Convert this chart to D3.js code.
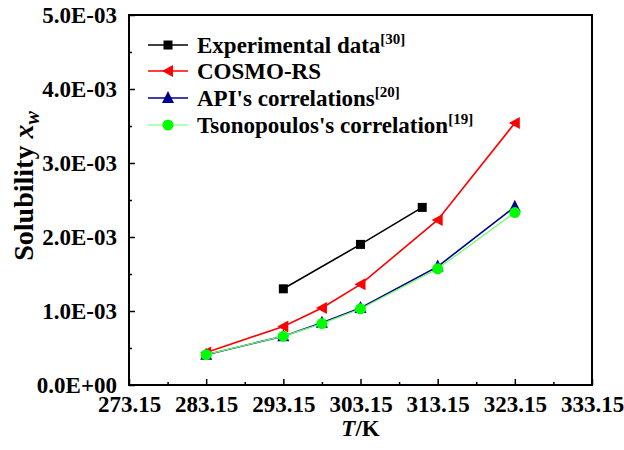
<!DOCTYPE html>
<html><head><meta charset="utf-8">
<script src="https://cdn.jsdelivr.net/npm/d3@7"></script>
<style>body{margin:0;background:#fff}svg{display:block}</style>
</head><body>
<script>
const seriesNames = ["Experimental data", "COSMO-RS", "API's correlations", "Tsonopoulos's correlation"];
const seriesRefs = ["[30]", "", "[20]", "[19]"];
const expT = [293.15, 303.15, 311.15];
const expX = [1.30e-3, 1.90e-3, 2.40e-3];
const cosmoT = [283.15, 293.15, 298.15, 303.15, 313.15, 323.15];
const cosmoX = [0.44e-3, 0.79e-3, 1.04e-3, 1.36e-3, 2.23e-3, 3.54e-3];
const apiT = [283.15, 293.15, 298.15, 303.15, 313.15, 323.15];
const apiX = [0.41e-3, 0.66e-3, 0.84e-3, 1.04e-3, 1.60e-3, 2.41e-3];
const tsoT = [283.15, 293.15, 298.15, 303.15, 313.15, 323.15];
const tsoX = [0.41e-3, 0.66e-3, 0.83e-3, 1.03e-3, 1.57e-3, 2.33e-3];
const xTicks = [273.15, 283.15, 293.15, 303.15, 313.15, 323.15, 333.15];
const yTicks = [0, 1e-3, 2e-3, 3e-3, 4e-3, 5e-3];
const yTickLabels = ["0.0E+00", "1.0E-03", "2.0E-03", "3.0E-03", "4.0E-03", "5.0E-03"];

const W = 624, H = 450;
const L = 129, R = 592, T = 15, B = 385;
const svg = d3.select("body").append("svg").attr("width", W).attr("height", H);
const x = d3.scaleLinear().domain([273.15, 333.15]).range([L, R]);
const y = d3.scaleLinear().domain([0, 5e-3]).range([B, T]);
const font = "'Liberation Serif','Times New Roman',serif";

// ticks (inward)
const xMinor = xTicks.slice(0, -1).map(v => v + 5);
const yMinor = yTicks.slice(0, -1).map(v => v + 0.5e-3);
const xAxis = d3.axisBottom(x).tickValues(xTicks).tickSize(-6).tickFormat(d => d.toFixed(2)).tickPadding(11);
const gx = svg.append("g").attr("transform", `translate(0,${B})`).call(xAxis);
const gxm = svg.append("g").attr("transform", `translate(0,${B})`).call(d3.axisBottom(x).tickValues(xMinor).tickSize(-3).tickFormat(""));
const yAxis = d3.axisLeft(y).tickValues(yTicks).tickSize(-6).tickFormat((d, i) => yTickLabels[i]).tickPadding(12);
const gy = svg.append("g").attr("transform", `translate(${L},0)`).call(yAxis);
const gym = svg.append("g").attr("transform", `translate(${L},0)`).call(d3.axisLeft(y).tickValues(yMinor).tickSize(-3).tickFormat(""));
[gx, gxm, gy, gym].forEach(g => {
  g.select(".domain").remove();
  g.selectAll("line").attr("stroke", "#000").attr("stroke-width", 1.5);
  g.selectAll("text").attr("font-family", font).attr("font-weight", "bold").attr("font-size", 23).attr("fill", "#000");
});
// frame
svg.append("rect").attr("x", L).attr("y", T).attr("width", R - L).attr("height", B - T)
  .attr("fill", "none").attr("stroke", "#000").attr("stroke-width", 2);

// axis titles
const xt = svg.append("text").attr("x", (L + R) / 2).attr("y", 436).attr("text-anchor", "middle")
  .attr("font-family", font).attr("font-weight", "bold").attr("font-size", 23);
xt.append("tspan").attr("font-style", "italic").text("T");
xt.append("tspan").text("/K");
const yt = svg.append("text").attr("transform", `translate(33,186) rotate(-90)`).attr("text-anchor", "middle")
  .attr("font-family", font).attr("font-weight", "bold").attr("font-size", 28);
yt.append("tspan").text("Solubility ");
yt.append("tspan").attr("font-style", "italic").text("x");
yt.append("tspan").attr("font-style", "italic").attr("font-size", 20).attr("dy", 6).text("w");

// series
const series = [
  {T: expT, X: expX, color: "#000000", line: "#000000", lw: 1.6, marker: "square"},
  {T: cosmoT, X: cosmoX, color: "#ff0000", line: "#ff0000", lw: 1.6, marker: "left"},
  {T: apiT, X: apiX, color: "#00008b", line: "#00008b", lw: 1.6, marker: "up"},
  {T: tsoT, X: tsoX, color: "#00ff00", line: "#66ff66", lw: 1.2, marker: "circle"}
];
function drawMarker(g, type, cx, cy, color) {
  if (type === "square") g.append("rect").attr("x", cx - 4.5).attr("y", cy - 4.5).attr("width", 9).attr("height", 9).attr("fill", color);
  else if (type === "left") g.append("path").attr("d", `M${cx - 6},${cy} L${cx + 5},${cy - 6} L${cx + 5},${cy + 6} Z`).attr("fill", color);
  else if (type === "up") g.append("path").attr("d", `M${cx},${cy - 7} L${cx - 6},${cy + 5} L${cx + 6},${cy + 5} Z`).attr("fill", color);
  else g.append("circle").attr("cx", cx).attr("cy", cy).attr("r", 5.5).attr("fill", color);
}
const line = d3.line().x(d => x(d[0])).y(d => y(d[1]));
series.forEach(s => {
  const pts = s.T.map((t, i) => [t, s.X[i]]);
  const g = svg.append("g");
  g.append("path").attr("d", line(pts)).attr("fill", "none").attr("stroke", s.line).attr("stroke-width", s.lw);
  pts.forEach(p => drawMarker(g, s.marker, x(p[0]), y(p[1]), s.color));
});

// legend
const legY = [45, 71, 98, 125];
series.forEach((s, i) => {
  const g = svg.append("g");
  g.append("line").attr("x1", 148).attr("x2", 188).attr("y1", legY[i]).attr("y2", legY[i]).attr("stroke", s.line).attr("stroke-width", s.lw);
  drawMarker(g, s.marker, 168, legY[i], s.color);
  const t = g.append("text").attr("x", 197).attr("y", legY[i] + 8).attr("font-family", font).attr("font-weight", "bold").attr("font-size", 23);
  t.append("tspan").text(seriesNames[i]);
  if (seriesRefs[i]) t.append("tspan").attr("font-size", 15).attr("dy", -9).text(seriesRefs[i]);
});
</script>
</body></html>
